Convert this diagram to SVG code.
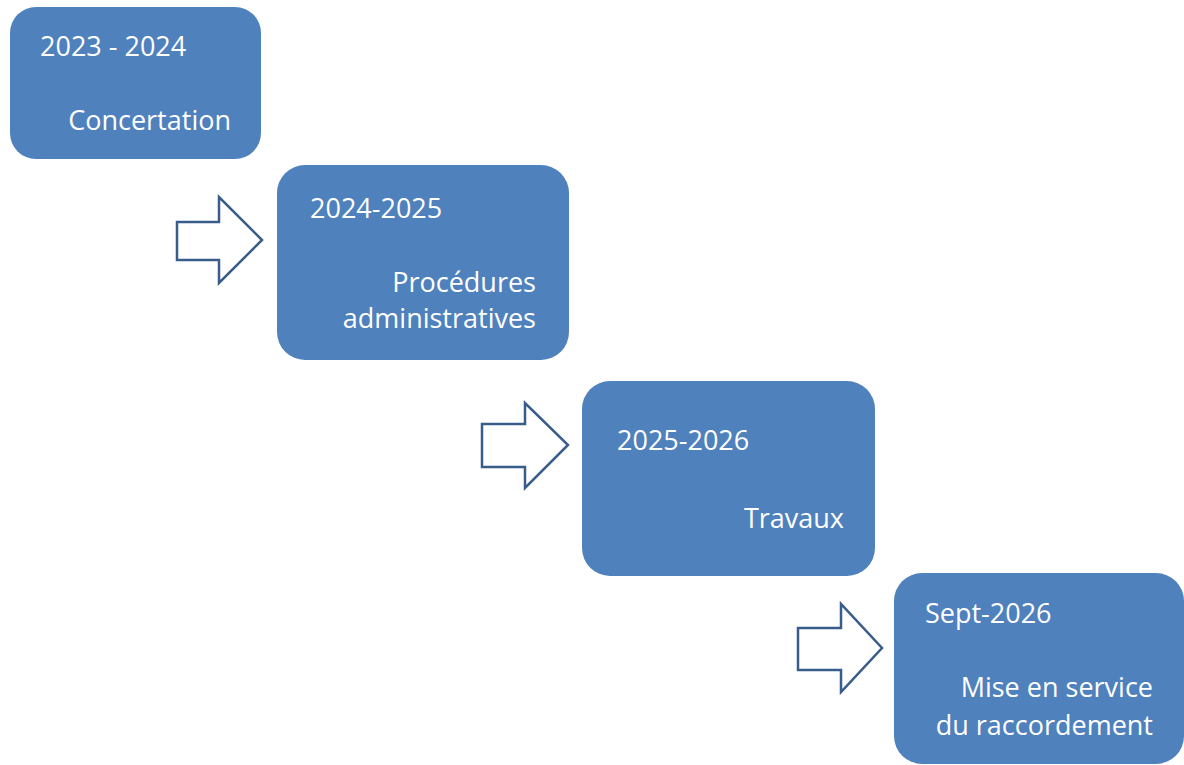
<svg xmlns="http://www.w3.org/2000/svg" width="1184" height="765" viewBox="0 0 1184 765">
  <style>
    .box { fill: #4F81BD; }
    .lbl { font-family: "Open Sans", "Liberation Sans", sans-serif; font-size: 27px; fill: #FFFFFF; }
    .end { text-anchor: end; }
    .arrow { fill: #FFFFFF; stroke: #385D8A; stroke-width: 2.5; stroke-linejoin: miter; }
  </style>
  <rect width="1184" height="765" fill="#FFFFFF"/>

  <!-- block arrows between phases -->
  <g id="connectors">
    <path class="arrow" d="M177,222 H219 V197 L262,240 L219,283 V260 H177 Z"/>
    <path class="arrow" d="M482,424 H525 V403 L568,445 L525,488 V467 H482 Z"/>
    <path class="arrow" d="M798,628 H841 V604 L882,648 L841,692 V670 H798 Z"/>
  </g>

  <g id="phase1">
    <rect class="box" x="10" y="7" width="251" height="152" rx="26" ry="26"/>
    <text class="lbl" x="40" y="56">2023 - 2024</text>
    <text class="lbl end" x="231" y="130">Concertation</text>
  </g>

  <g id="phase2">
    <rect class="box" x="277" y="165" width="292" height="195" rx="28" ry="28"/>
    <text class="lbl" x="310" y="218">2024-2025</text>
    <text class="lbl end" x="536" y="292">Procédures</text>
    <text class="lbl end" x="536" y="328">administratives</text>
  </g>

  <g id="phase3">
    <rect class="box" x="582" y="381" width="293" height="195" rx="28" ry="28"/>
    <text class="lbl" x="617" y="450">2025-2026</text>
    <text class="lbl end" x="844" y="528">Travaux</text>
  </g>

  <g id="phase4">
    <rect class="box" x="894" y="573" width="290" height="191" rx="28" ry="28"/>
    <text class="lbl" x="925" y="623">Sept-2026</text>
    <text class="lbl end" x="1153" y="697">Mise en service</text>
    <text class="lbl end" x="1153" y="735">du raccordement</text>
  </g>
</svg>
